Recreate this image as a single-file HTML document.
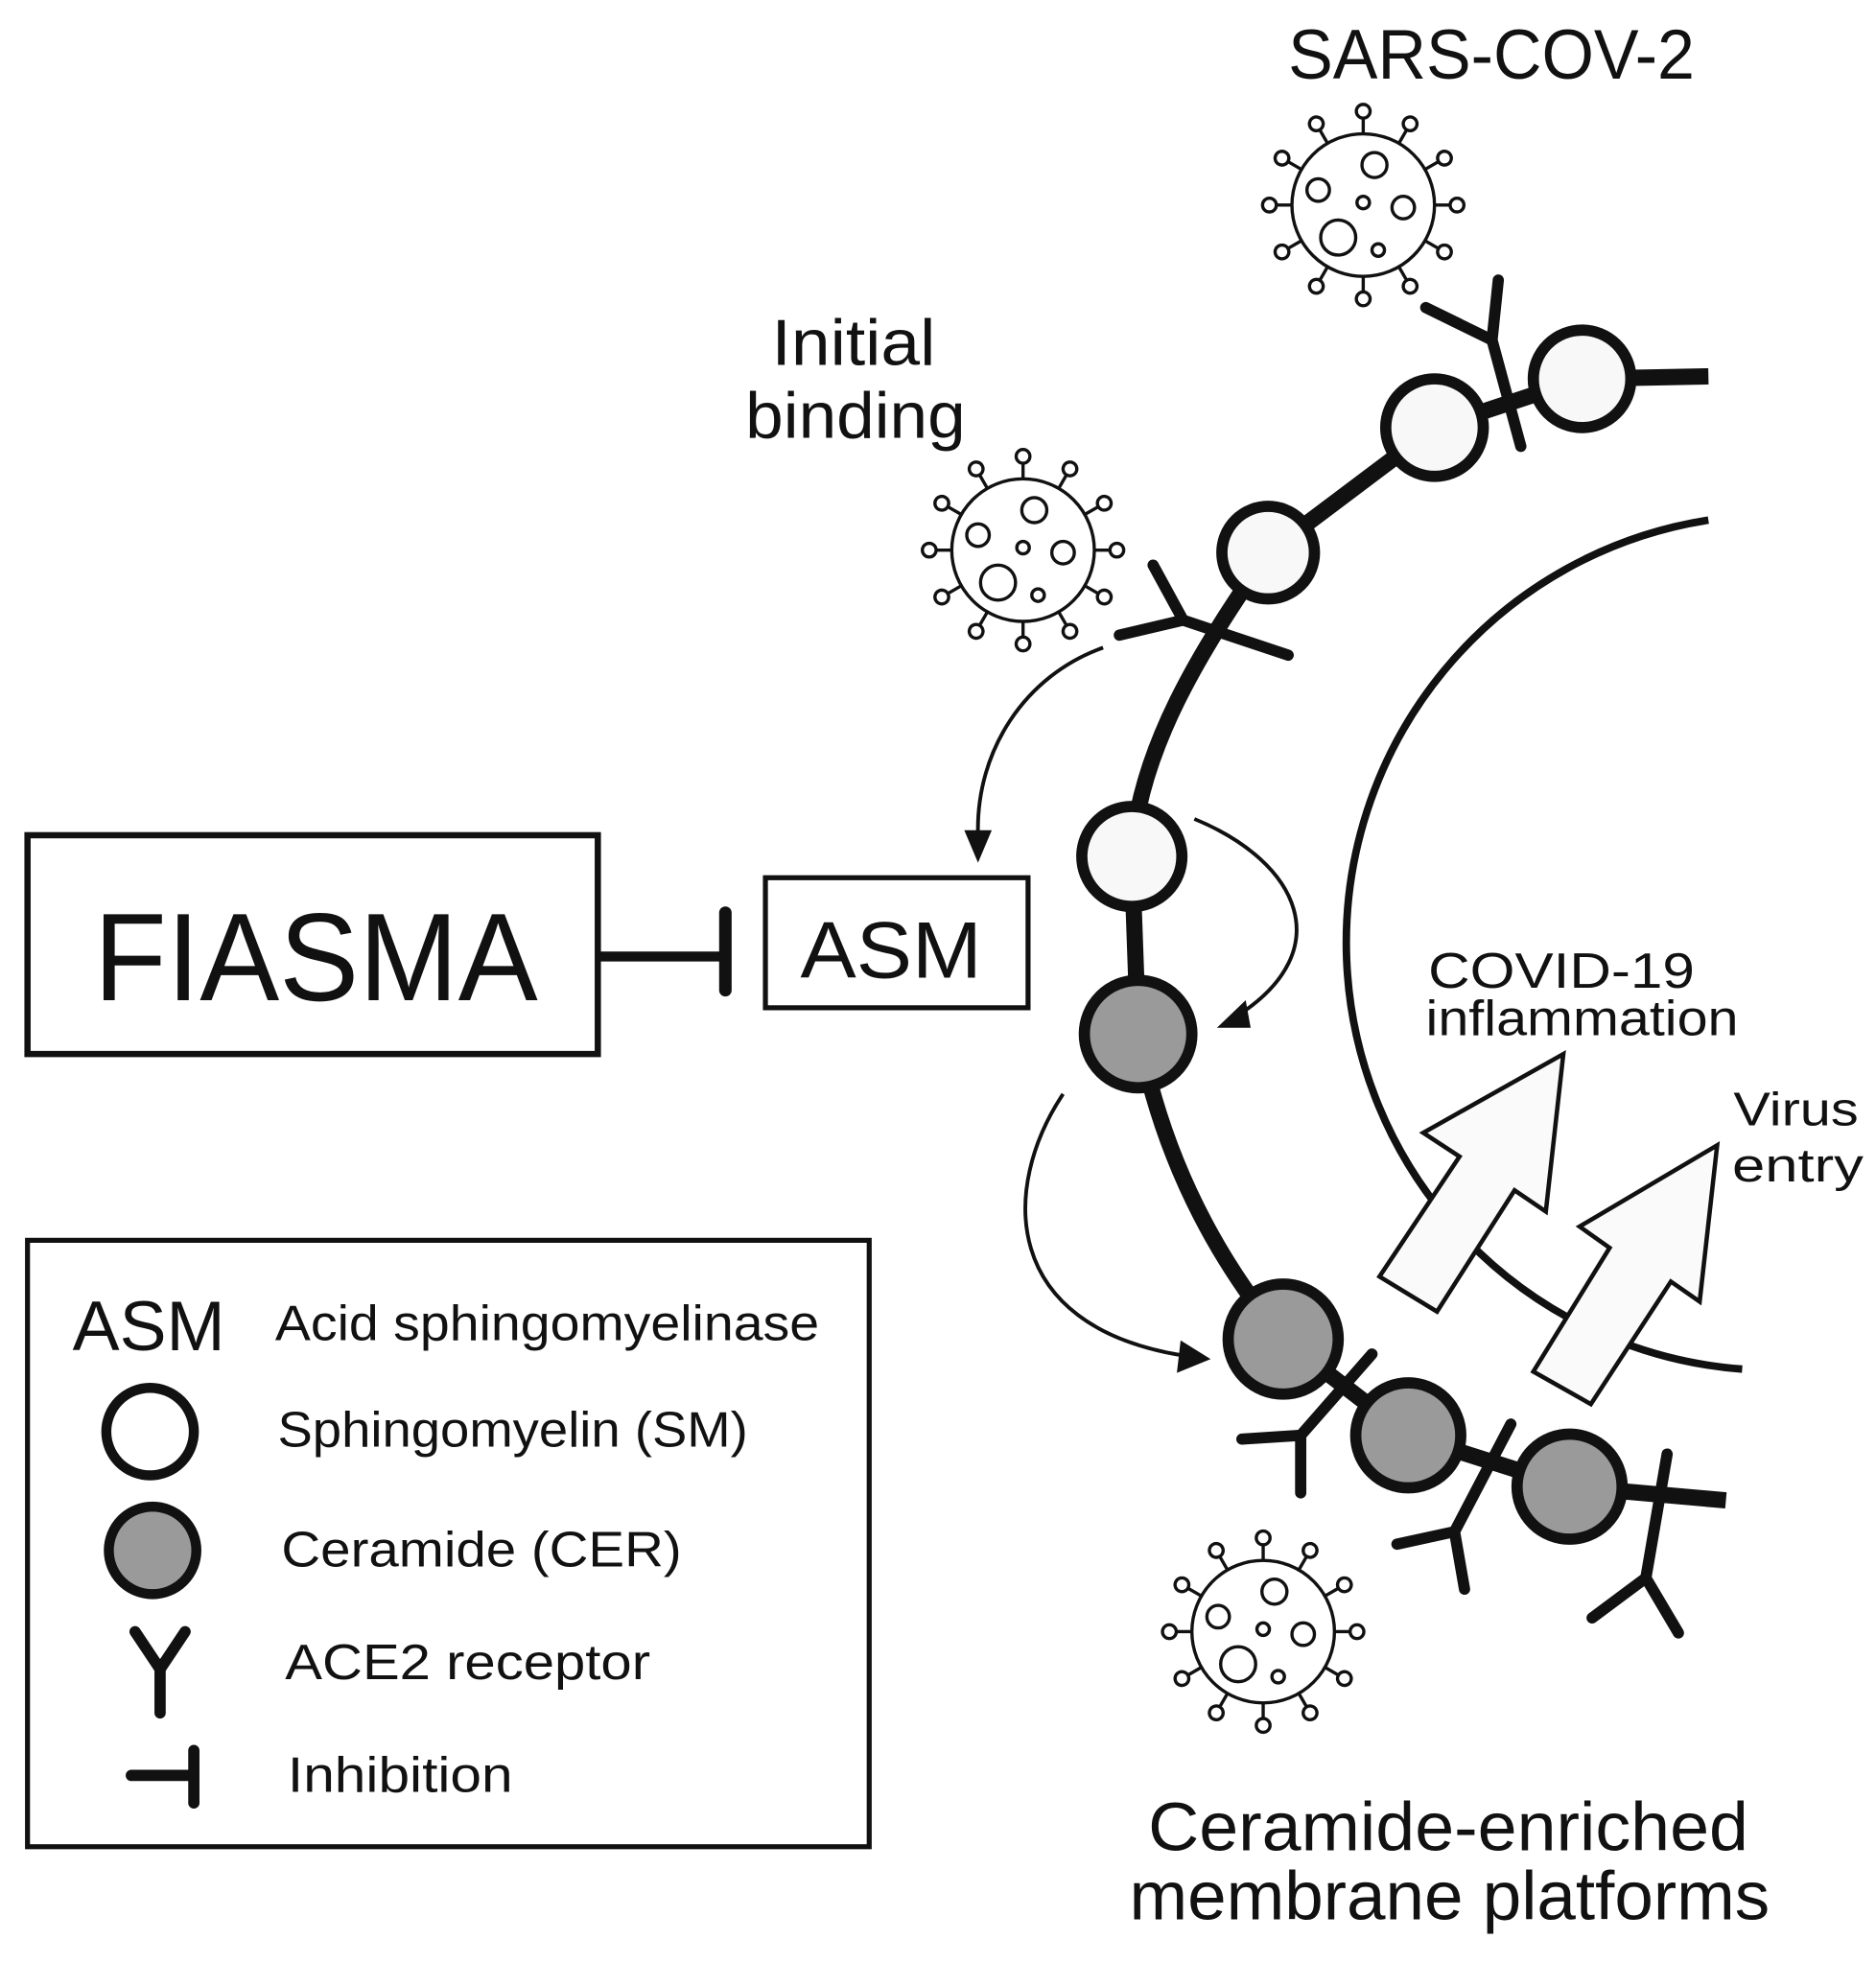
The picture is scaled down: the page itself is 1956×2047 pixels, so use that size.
<!DOCTYPE html>
<html><head><meta charset="utf-8"><style>
html,body{margin:0;padding:0;background:#fff;}
svg{display:block;}
text{font-family:"Liberation Sans",sans-serif;fill:#111;}
</style></head><body>
<svg width="1956" height="2047" viewBox="0 0 1500 1570" preserveAspectRatio="none" xmlns="http://www.w3.org/2000/svg">
<defs>
<g id="virus" fill="none" stroke="#111" stroke-width="2.6">
<circle r="57"/>
<g id="sp"><line x1="0" y1="-57" x2="0" y2="-70"/><circle cx="0" cy="-75" r="5.5"/></g>
<use href="#sp" transform="rotate(30)"/><use href="#sp" transform="rotate(60)"/><use href="#sp" transform="rotate(90)"/>
<use href="#sp" transform="rotate(120)"/><use href="#sp" transform="rotate(150)"/><use href="#sp" transform="rotate(180)"/>
<use href="#sp" transform="rotate(210)"/><use href="#sp" transform="rotate(240)"/><use href="#sp" transform="rotate(270)"/>
<use href="#sp" transform="rotate(300)"/><use href="#sp" transform="rotate(330)"/>
<circle cx="-20" cy="26" r="14"/><circle cx="9" cy="-32" r="10"/><circle cx="-36" cy="-12" r="9"/>
<circle cx="32" cy="2" r="9"/><circle cx="0" cy="-2" r="5"/><circle cx="12" cy="36" r="5"/>
</g>
</defs>

<!-- inner cell arc -->
<path d="M1366,416 A342,342 0 0 0 1393,1095" fill="none" stroke="#111" stroke-width="6"/>

<!-- block arrows -->
<polygon points="1250,843 1236,969 1211,952 1149,1049 1103,1021 1167,925 1138,906" fill="#fafafa" stroke="#111" stroke-width="3.5" stroke-linejoin="miter"/>
<polygon points="1373,916 1359,1041 1336,1025 1272,1123 1226,1097 1287,998 1263,981" fill="#fafafa" stroke="#111" stroke-width="3.5"/>

<!-- membrane -->
<path d="M1366,301 L1265,303 L1147,342 L1014,442 C960,520 910,600 905,685 L910,825 C930,930 975,1010 1026,1071 L1126,1148 L1255,1189 L1380,1200" fill="none" stroke="#111" stroke-width="13" stroke-linejoin="round"/>

<!-- ACE2 receptors -->
<g stroke="#111" stroke-width="9" stroke-linecap="round" fill="none">
<polyline points="1198,224 1193,272 1216,357"/><line x1="1140" y1="246" x2="1193" y2="272"/>
<polyline points="922,452 946,496 1030,524"/><line x1="895" y1="508" x2="946" y2="496"/>
<polyline points="1097,1083 1040,1148 1040,1194"/><line x1="993" y1="1151" x2="1040" y2="1148"/>
<polyline points="1208,1139 1163,1225 1171,1271"/><line x1="1117" y1="1235" x2="1163" y2="1225"/>
<polyline points="1333,1163 1316,1262 1342,1306"/><line x1="1273" y1="1294" x2="1316" y2="1262"/>
</g>

<!-- lipids -->
<g stroke="#111" stroke-width="9">
<circle cx="1265" cy="303" r="39" fill="#f8f8f8"/>
<circle cx="1147" cy="342" r="39" fill="#f8f8f8"/>
<circle cx="1014" cy="442" r="37" fill="#f8f8f8"/>
<circle cx="905" cy="685" r="40" fill="#f8f8f8"/>
<circle cx="910" cy="827" r="43" fill="#9a9a9a"/>
<circle cx="1026" cy="1071" r="44" fill="#9a9a9a"/>
<circle cx="1126" cy="1148" r="42" fill="#9a9a9a"/>
<circle cx="1255" cy="1189" r="42" fill="#9a9a9a"/>
</g>

<!-- viruses -->
<use href="#virus" transform="translate(1090,164)"/>
<use href="#virus" transform="translate(818,440)"/>
<use href="#virus" transform="translate(1010,1305)"/>

<!-- thin arrows -->
<g fill="none" stroke="#111" stroke-width="3">
<path d="M882,518 C820,540 780,600 782,668"/>
<path d="M955,655 C1040,690 1070,760 990,812"/>
<path d="M850,875 C800,950 800,1060 945,1084"/>
</g>
<polygon points="771,664 793,664 782,690" fill="#111"/>
<polygon points="996,800 1000,822 973,822" fill="#111"/>
<polygon points="944,1072 968,1087 941,1098" fill="#111"/>

<!-- FIASMA / ASM -->
<rect x="22" y="668" width="456" height="175" fill="none" stroke="#111" stroke-width="5"/>
<text x="75" y="800" font-size="100" textLength="355" lengthAdjust="spacingAndGlyphs">FIASMA</text>
<line x1="478" y1="765" x2="580" y2="765" stroke="#111" stroke-width="8"/>
<line x1="580" y1="730" x2="580" y2="792" stroke="#111" stroke-width="10" stroke-linecap="round"/>
<rect x="612" y="702" width="210" height="104" fill="none" stroke="#111" stroke-width="4"/>
<text x="640" y="782" font-size="64" textLength="145" lengthAdjust="spacingAndGlyphs">ASM</text>

<!-- labels -->
<text x="1030" y="63" font-size="56" textLength="325" lengthAdjust="spacingAndGlyphs">SARS-COV-2</text>
<text x="617" y="292" font-size="52" textLength="131" lengthAdjust="spacingAndGlyphs">Initial</text>
<text x="596" y="350" font-size="52" textLength="176" lengthAdjust="spacingAndGlyphs">binding</text>
<text x="1142" y="790" font-size="40" textLength="213" lengthAdjust="spacingAndGlyphs">COVID-19</text>
<text x="1140" y="828" font-size="40" textLength="250" lengthAdjust="spacingAndGlyphs">inflammation</text>
<text x="1386" y="900" font-size="38" textLength="100" lengthAdjust="spacingAndGlyphs">Virus</text>
<text x="1385" y="945" font-size="38" textLength="105" lengthAdjust="spacingAndGlyphs">entry</text>
<text x="918" y="1480" font-size="55" textLength="480" lengthAdjust="spacingAndGlyphs">Ceramide-enriched</text>
<text x="903" y="1535" font-size="55" textLength="512" lengthAdjust="spacingAndGlyphs">membrane platforms</text>

<!-- legend -->
<rect x="22" y="992" width="673" height="485" fill="none" stroke="#111" stroke-width="4"/>
<text x="58" y="1080" font-size="56" textLength="122" lengthAdjust="spacingAndGlyphs">ASM</text>
<text x="220" y="1072" font-size="40" textLength="435" lengthAdjust="spacingAndGlyphs">Acid sphingomyelinase</text>
<circle cx="120" cy="1145" r="35" fill="#fff" stroke="#111" stroke-width="8"/>
<text x="222" y="1157" font-size="40" textLength="376" lengthAdjust="spacingAndGlyphs">Sphingomyelin (SM)</text>
<circle cx="122" cy="1240" r="35" fill="#9a9a9a" stroke="#111" stroke-width="8"/>
<text x="225" y="1253" font-size="40" textLength="320" lengthAdjust="spacingAndGlyphs">Ceramide (CER)</text>
<g stroke="#111" stroke-width="9" stroke-linecap="round" fill="none">
<polyline points="108,1305 128,1335 148,1305"/><line x1="128" y1="1335" x2="128" y2="1370"/>
<line x1="105" y1="1420" x2="155" y2="1420"/><line x1="155" y1="1400" x2="155" y2="1442"/>
</g>
<text x="228" y="1343" font-size="40" textLength="292" lengthAdjust="spacingAndGlyphs">ACE2 receptor</text>
<text x="230" y="1433" font-size="40" textLength="180" lengthAdjust="spacingAndGlyphs">Inhibition</text>
</svg>
</body></html>
